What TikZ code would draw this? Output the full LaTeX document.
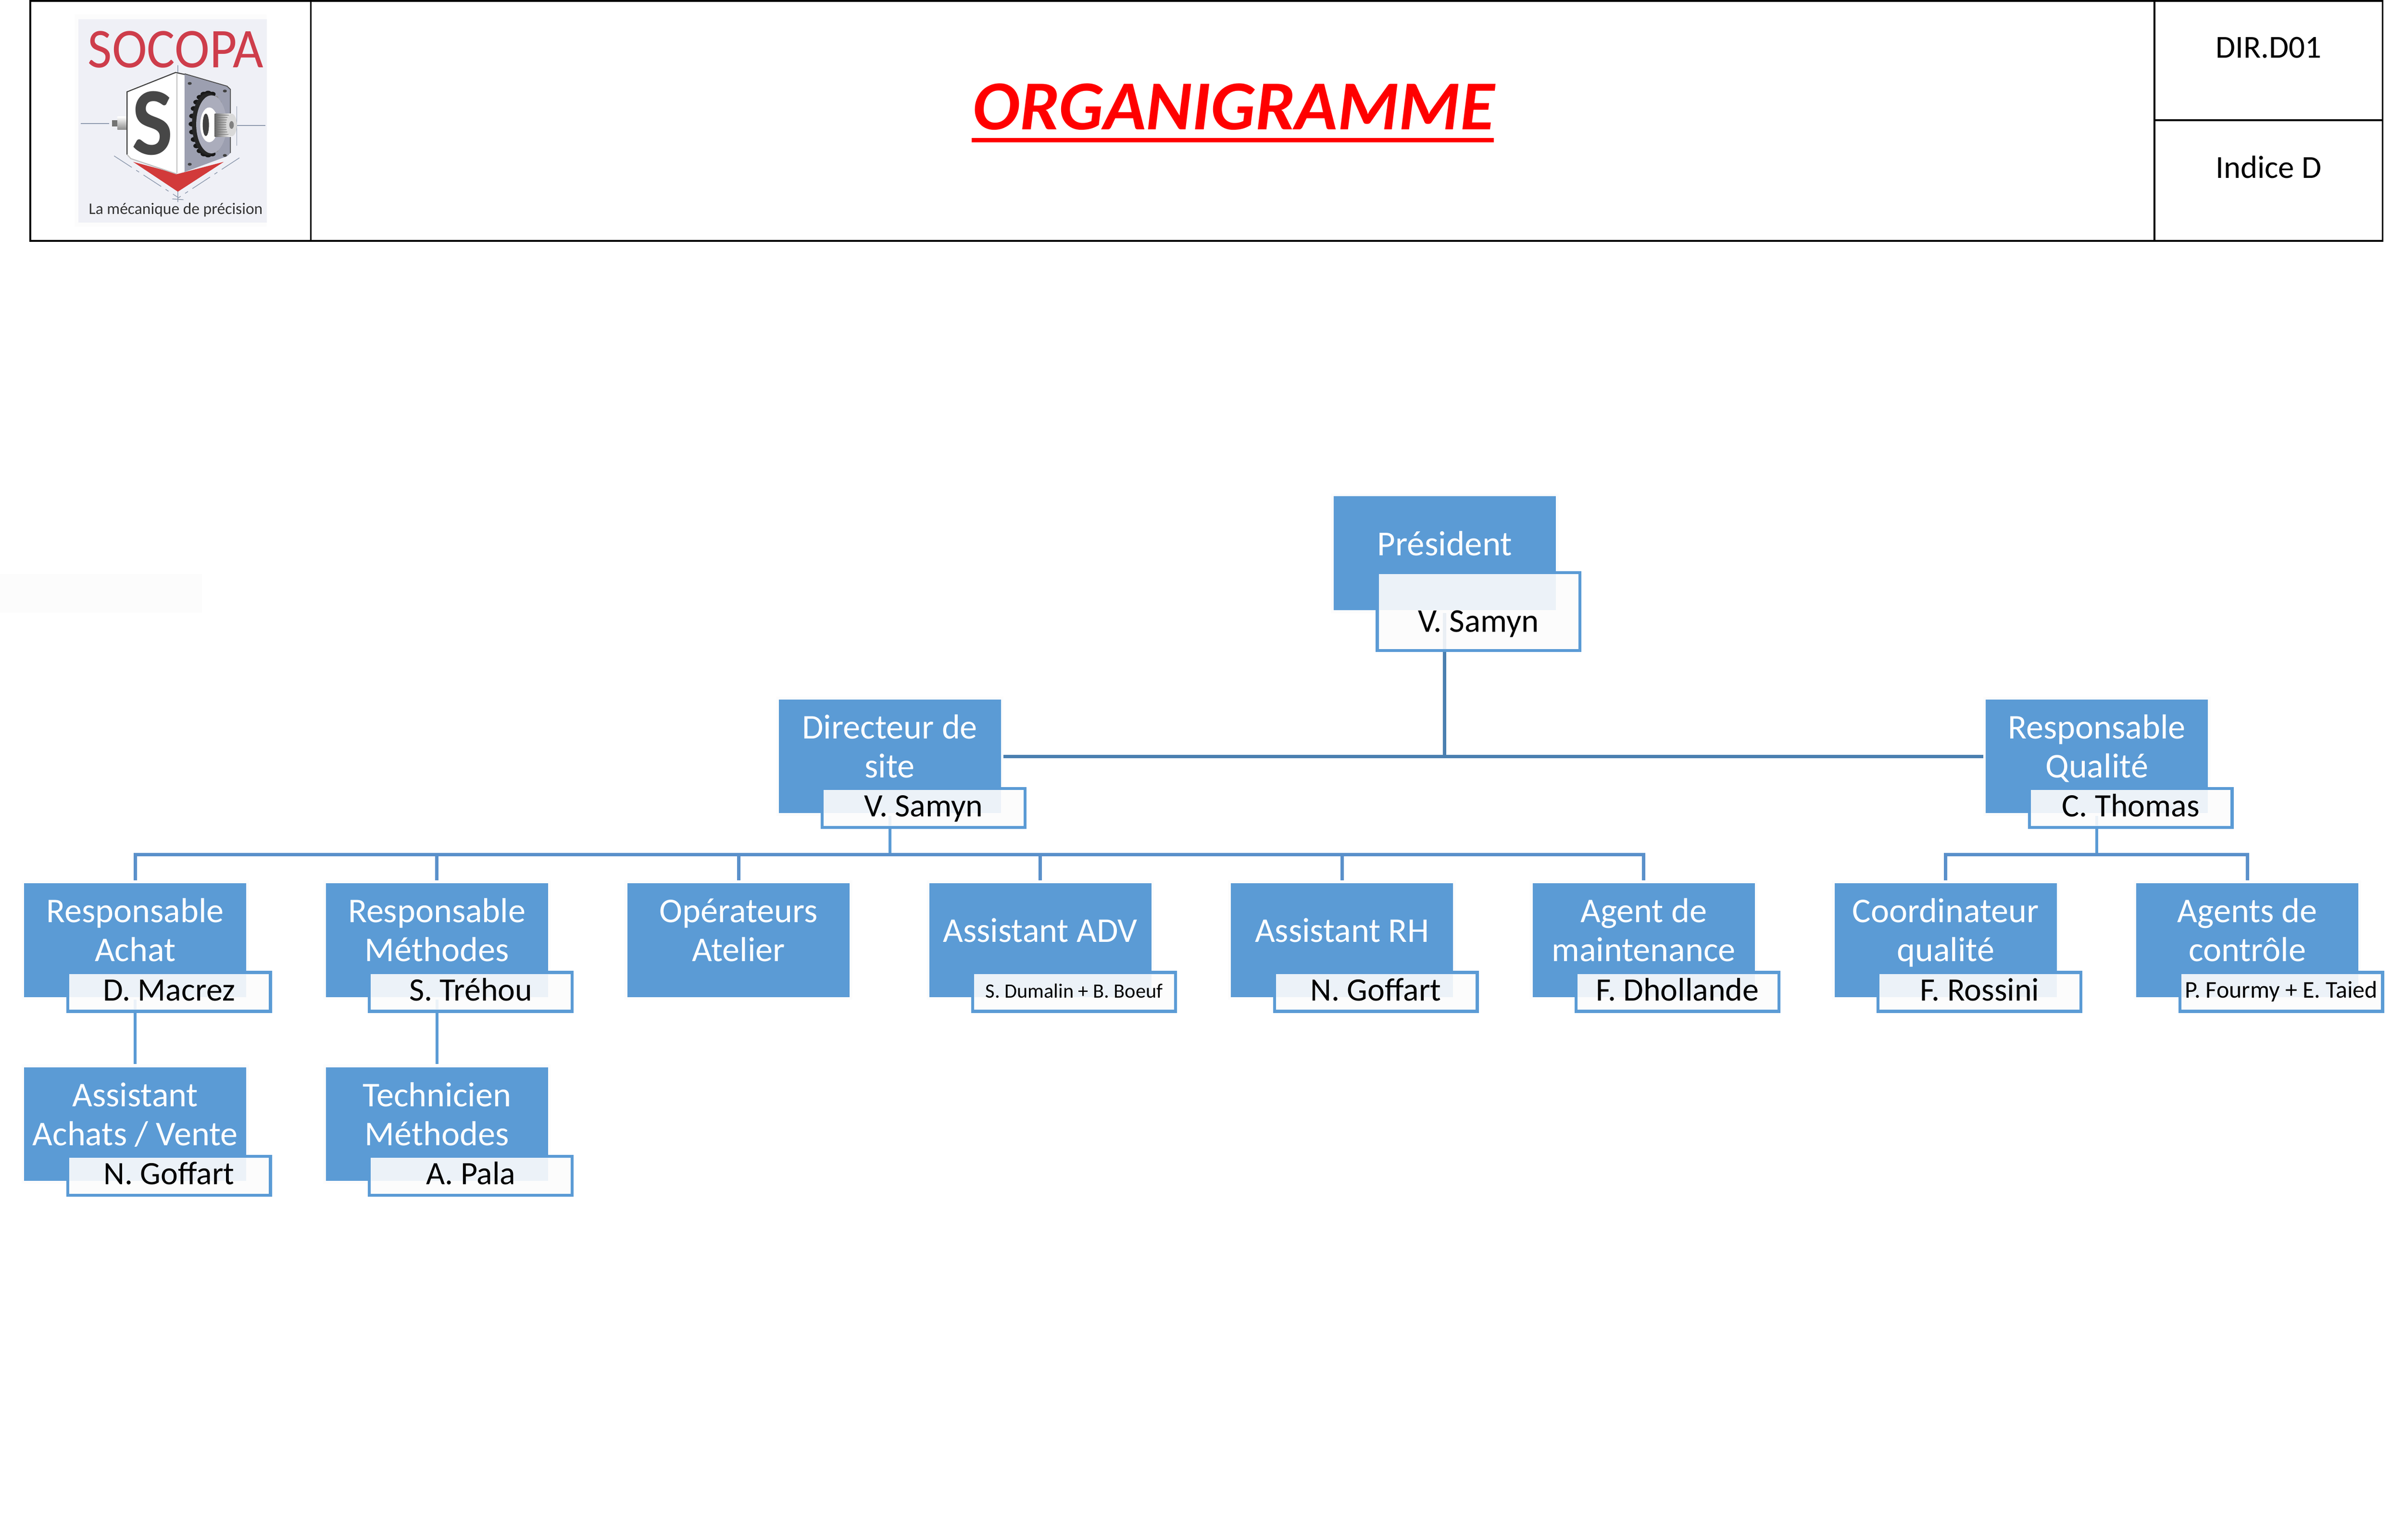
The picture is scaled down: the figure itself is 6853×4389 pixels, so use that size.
\documentclass[tikz,border=0pt]{standalone}
\usepackage{fontspec}
\setmainfont{Carlito}
\usetikzlibrary{shapes.geometric}
\definecolor{orgblue}{HTML}{5B9BD5}
\definecolor{busblue}{HTML}{5A90CA}
\definecolor{darkbus}{HTML}{4A7FB0}
\definecolor{halo}{HTML}{FCFCFC}
\definecolor{logobg}{HTML}{EFF0F6}
\definecolor{logored}{HTML}{CE3D4B}
\definecolor{chev}{HTML}{D23A3A}
\definecolor{faceg}{HTML}{9C9FB0}
\definecolor{cline}{HTML}{8E9AAE}
\pgfdeclarelayer{bg}
\pgfsetlayers{bg,main}
\tikzset{
  x=0.1pt, y=-0.1pt,
  bluebox/.style={rectangle,fill=orgblue,inner sep=0pt,outer sep=0pt,minimum width=63.3pt,minimum height=32.4pt,text=white,
    font=\fontsize{9.9}{11.1}\selectfont,preaction={draw=halo,line width=1.6pt}},
  namebox/.style={rectangle,draw=orgblue,line width=.85pt,fill=halo,fill opacity=.9,text opacity=1,inner sep=0pt,outer sep=0pt,
    minimum width=57.8pt,minimum height=11.1pt,text=black,font=\fontsize{9.3}{11}\selectfont},
  conn/.style={draw=busblue,line width=.95pt},
  connstem/.style={draw=orgblue,line width=.85pt},
  conndark/.style={draw=darkbus,line width=.95pt},
  head/.style={draw=black,line width=.5pt},
  plain/.style={inner sep=0pt,outer sep=0pt,anchor=base},
}
\newcommand\twolab[2]{\raisebox{5pt}[0pt][0pt]{\begin{tabular}[t]{@{}c@{}}#1\\#2\end{tabular}}}
\newcommand\onelab[1]{\raisebox{-.6pt}[0pt][0pt]{#1}}
\newcommand\perslab[1]{\raisebox{-2.5pt}[0pt][0pt]{#1}}
\newcommand\smalllab[1]{\raisebox{-1.7pt}[0pt][0pt]{#1}}
\newcommand\orgbox[5]{%
  \node[bluebox] (#1) at (#2+316.5,#3+162) {#4};
  \node[namebox] (#1n) at (#2+413,#3+309.5) {#5};}
\begin{document}
\begin{tikzpicture}
\useasboundingbox (0,0) rectangle (6853,4389);
\begin{pgfonlayer}{bg}
\fill[white] (0,0) rectangle (6853,4389);
\end{pgfonlayer}
\fill[halo] (0,1636) rectangle (576,1746);

% header
\draw[head] (86,3) rectangle (6792,687);
\draw[head] (886,3) -- (886,687);
\draw[head] (6142,3) -- (6142,687);
\draw[head] (6142,343) -- (6792,343);
\node[plain,text=red,font=\fontsize{20}{20}\selectfont\bfseries\itshape] (title) at (3517,369) {ORGANIGRAMME};
\fill[red] (2770,393) rectangle (4258,406);
\node[plain,font=\fontsize{9.15}{10}\selectfont] (code) at (6467,165) {DIR.D01};
\node[plain,font=\fontsize{9.15}{10}\selectfont] (indice) at (6467,508) {Indice D};

% logo
\fill[halo] (212,41) rectangle (760,646);
\fill[logobg] (223,55) rectangle (760,634);
\node[plain,text=logored] (logoname) at (501,193) {\scalebox{.94}[1]{\fontsize{16}{16}\selectfont SOCOPA}};
\begin{scope}[xscale=0.6378,yscale=0.4591]
  \draw[cline,line width=.2pt,dash pattern=on 6pt off 1.5pt on 1pt off 1.5pt] (510,968) -- (795,1225) (1070,980) -- (795,1230);
  \draw[cline,line width=.2pt] (795,405) -- (795,450) (795,1180) -- (795,1255) (770,1235) -- (820,1240);
  \draw[cline,line width=.25pt,dash pattern=on 8pt off 1.5pt on 1pt off 1.5pt] (362,767) -- (505,767) (1060,780) -- (1192,780);
  \draw[cline,line width=.2pt] (1058,660) -- (1058,905);
  \fill[chev] (595,1005) -- (795,1080) -- (1000,1005) -- (795,1190) -- cycle;
  \fill[black!55] (500,745) rectangle (530,785);
  \shade[top color=white,bottom color=black!45] (525,725) rectangle (572,805);
  \fill[white] (572,560) -- (785,450) -- (825,470) -- (825,1060) -- (790,1080) -- (585,985) -- (568,960) -- cycle;
  \draw[black!75,line width=.3pt] (568,960) -- (568,570) -- (785,450) -- (825,462);
  \draw[black!25,line width=.3pt] (568,960) -- (585,985) -- (790,1080);
  \draw[black!25,line width=.25pt] (790,455) -- (790,1075);
  \fill[faceg] (825,458) -- (1015,535) -- (1030,555) -- (1030,950) -- (1015,970) -- (825,1068) -- cycle;
  \draw[black!70,line width=.25pt] (825,458) -- (1015,535) -- (1030,555) -- (1030,950);
  \foreach \p/\q in {848/518,1005/565,848/1020,1005/965}
    \fill[black!75] (\p,\q) circle (9);
  \foreach \a in {-60,-45,...,60}
    \fill[black!45] ({930+70*cos(\a)},{770+190*sin(\a)}) circle (11);
  \foreach \a in {75,90,...,285}
    \fill[black!90] ({930+72*cos(\a)},{770+192*sin(\a)}) circle (15);
  \fill[black!85] (930,770) ellipse (72 and 192);
  \fill[faceg!85!white] (945,772) ellipse (68 and 180);
  \fill[white] (935,775) ellipse (40 and 108);
  \fill[black!75] (920,775) ellipse (14 and 70);
  \shade[left color=black!60,right color=white] (960,705) rectangle (1035,848);
  \foreach \q in {715,730,...,840}
    \draw[black!55,line width=.15pt] (960,\q) -- (1030,\q);
  \fill[black!15] (1035,776) ellipse (24 and 70);
  \fill[black!50] (1035,776) ellipse (10 and 24);
\end{scope}
\node[plain,text=black!72] (logoS) at (435,441) {\scalebox{.9}[1]{\fontsize{27.5}{27.5}\selectfont\bfseries S}};
\node[plain,text=black!80] (logotag) at (501,611) {\fontsize{4.6}{5}\selectfont La mécanique de précision};

% president
\node[bluebox,font=\fontsize{10}{11.1}\selectfont] (pres) at (3802+316.5,1415+162) {\raisebox{-.7pt}[0pt][0pt]{Président}};
\node[namebox,minimum height=22.2pt,font=\fontsize{9.45}{11}\selectfont] (presn) at (4215,1743) {\raisebox{-5.8pt}[0pt][0pt]{V. Samyn}};

% second row
\orgbox{dir}{2220}{1994}{\twolab{Directeur de}{site}}{\perslab{V. Samyn}}
\orgbox{rq}{5661}{1994}{\twolab{Responsable}{Qualité}}{\perslab{C. Thomas}}

% third row
\orgbox{ach}{69}{2518}{\twolab{Responsable}{Achat}}{\perslab{D. Macrez}}
\orgbox{met}{929}{2518}{\twolab{Responsable}{Méthodes}}{\perslab{S. Tréhou}}
\node[bluebox] (ope) at (1789+316.5,2518+162) {\twolab{Opérateurs}{Atelier}};
\orgbox{adv}{2649}{2518}{\onelab{Assistant ADV}}{\smalllab{\fontsize{5.8}{7}\selectfont S. Dumalin + B. Boeuf}}
\orgbox{rh}{3509}{2518}{\onelab{Assistant RH}}{\perslab{N. Goffart}}
\orgbox{mai}{4369}{2518}{\twolab{Agent de}{maintenance}}{\perslab{F. Dhollande}}
\orgbox{coo}{5230}{2518}{\twolab{Coordinateur}{qualité}}{\perslab{F. Rossini}}
\orgbox{ctl}{6090}{2518}{\twolab{Agents de}{contrôle}}{\smalllab{\fontsize{6.85}{7}\selectfont P. Fourmy + E. Taied}}

% fourth row
\orgbox{ass}{69}{3042}{\twolab{Assistant}{Achats / Vente}}{\perslab{N. Goffart}}
\orgbox{tec}{929}{3042}{\twolab{Technicien}{Méthodes}}{\perslab{A. Pala}}

\coordinate (rowB) at (0,2436.5);
\begin{pgfonlayer}{bg}
  \draw[conndark] (pres.south) -- (pres.south |- dir.east);
  \draw[conndark,shorten <=.8pt,shorten >=.8pt] (dir.east) -- (rq.west);
  \coordinate (busA) at (dir.south |- rowB);
  \coordinate (busB) at (rq.south |- rowB);
  \draw[connstem] (dir.south) -- (busA);
  \draw[connstem] (rq.south) -- (busB);
  \foreach \c in {ach,met,ope,adv,rh,mai}
    \draw[conn,shorten >=.9pt] (busA) -| (\c.north);
  \foreach \c in {coo,ctl}
    \draw[conn,shorten >=.9pt] (busB) -| (\c.north);
  \draw[connstem,shorten >=.9pt] (ach.south) -- (ass.north);
  \draw[connstem,shorten >=.9pt] (met.south) -- (tec.north);
\end{pgfonlayer}
\end{tikzpicture}
\end{document}
